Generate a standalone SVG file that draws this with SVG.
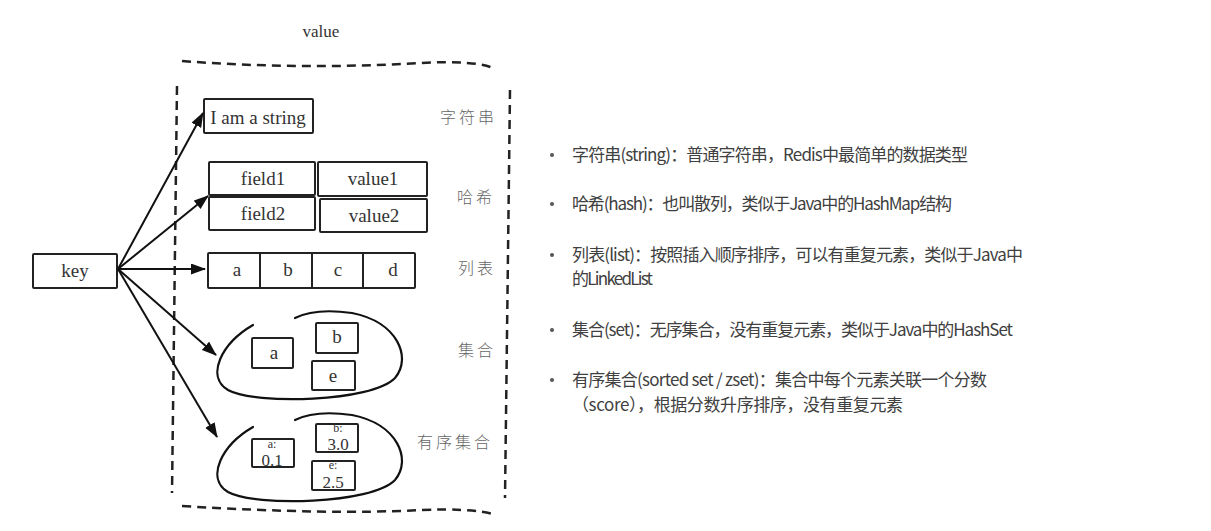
<svg xmlns="http://www.w3.org/2000/svg" width="1211" height="531" viewBox="0 0 1211 531">
<style>
.bx{fill:none;stroke:#222;stroke-width:2;stroke-linejoin:round}
.dash{fill:none;stroke:#222;stroke-width:2.5;stroke-dasharray:9 6}
.ell{fill:none;stroke:#111;stroke-width:2.2;stroke-linecap:round}
.ser{font-family:"Liberation Serif","DejaVu Serif",serif;fill:#333;font-size:19px;text-anchor:middle}
.sm{font-size:12px}
.num{font-size:17px}
.lbl{font-family:"Noto Sans CJK SC","Noto Sans CJK JP",sans-serif;font-weight:300;fill:#666;font-size:16px;letter-spacing:3px}
.txt{font-family:"Noto Sans CJK SC","Noto Sans CJK JP",sans-serif;fill:#404040;font-size:17px}
.arr{fill:none;stroke:#111;stroke-width:2;marker-end:url(#ah)}
.dot{fill:#555}
</style>
<defs>
<marker id="ah" markerUnits="userSpaceOnUse" markerWidth="16" markerHeight="12" refX="14" refY="5.5" orient="auto">
<path d="M0,0 L15,5.5 L0,11 Z" fill="#111"/>
</marker>
</defs>
<rect width="1211" height="531" fill="#fff"/>

<text class="ser" x="321" y="37" style="font-size:17px">value</text>

<g id="value-border">
<path class="dash" d="M182,61 Q300,70 420,63 Q478,60 495,69"/>
<path class="dash" d="M177,86 L172,493"/>
<path class="dash" d="M510,90 L505,498"/>
<path class="dash" d="M182,506 Q330,515 420,510 Q470,508 493,514"/>
</g>

<g id="key">
<rect class="bx" x="33" y="254" width="84" height="34" rx="1"/>
<text class="ser" x="75" y="277">key</text>
</g>

<g id="string">
<rect class="bx" x="204" y="99" width="109" height="34" rx="1"/>
<text class="ser" x="258" y="124">I am a string</text>
<text class="lbl" x="440" y="123">字符串</text>
</g>

<g id="hash">
<rect class="bx" x="209" y="162" width="106" height="33" rx="1"/>
<rect class="bx" x="318" y="162" width="109" height="34" rx="1"/>
<rect class="bx" x="209" y="197" width="106" height="33" rx="1"/>
<rect class="bx" x="320" y="199" width="107" height="33" rx="1"/>
<text class="ser" x="263" y="185">field1</text>
<text class="ser" x="373" y="185">value1</text>
<text class="ser" x="263" y="220">field2</text>
<text class="ser" x="374" y="222">value2</text>
<text class="lbl" x="457" y="203">哈希</text>
</g>

<g id="list">
<rect class="bx" x="208" y="253" width="207" height="35" rx="1"/>
<path class="bx" d="M260,253 L260,288 M312,253 L312,288 M363,253 L363,288"/>
<text class="ser" x="237" y="276">a</text>
<text class="ser" x="288" y="276">b</text>
<text class="ser" x="338" y="276">c</text>
<text class="ser" x="393" y="276">d</text>
<text class="lbl" x="458" y="274">列表</text>
</g>

<g id="set">
<path class="ell" d="M253,325 C222,343 205,376 228,390 C255,405 372,402 395,378 C412,358 398,322 352,313 C324,309 305,313 295,318"/>
<rect class="bx" x="252" y="338" width="41" height="30" rx="1"/>
<rect class="bx" x="316" y="323" width="42" height="30" rx="1"/>
<rect class="bx" x="312" y="361" width="43" height="29" rx="1"/>
<text class="ser" x="274" y="359">a</text>
<text class="ser" x="337" y="343">b</text>
<text class="ser" x="333" y="382">e</text>
<text class="lbl" x="458" y="356">集合</text>
</g>

<g id="zset">
<path class="ell" d="M253,427 C222,445 205,478 228,492 C255,507 372,504 395,480 C412,460 398,424 352,415 C324,411 305,415 295,420"/>
<rect class="bx" x="252" y="439" width="42" height="28" rx="1"/>
<rect class="bx" x="316" y="424" width="42" height="28" rx="1"/>
<rect class="bx" x="312" y="461" width="43" height="29" rx="1"/>
<text class="ser sm" x="272" y="448">a:</text>
<text class="ser num" x="272" y="466">0.1</text>
<text class="ser sm" x="338" y="432">b:</text>
<text class="ser num" x="338" y="450">3.0</text>
<text class="ser sm" x="333" y="469">e:</text>
<text class="ser num" x="333" y="488">2.5</text>
<text class="lbl" x="417" y="448">有序集合</text>
</g>

<g id="connectors">
<path class="arr" d="M118,269 L203,113"/>
<path class="arr" d="M118,269 L208,196"/>
<path class="arr" d="M118,269 L205,269"/>
<path class="arr" d="M118,269 L216,355"/>
<path class="arr" d="M118,269 L217,437"/>
</g>

<g id="legend">
<circle class="dot" cx="552" cy="155" r="2"/>
<circle class="dot" cx="552" cy="204" r="2"/>
<circle class="dot" cx="552" cy="255" r="2"/>
<circle class="dot" cx="552" cy="330" r="2"/>
<circle class="dot" cx="552" cy="380" r="2"/>
<text class="txt" x="572" y="161" textLength="396" lengthAdjust="spacing">字符串(string)：普通字符串，Redis中最简单的数据类型</text>
<text class="txt" x="572" y="210" textLength="380" lengthAdjust="spacing">哈希(hash)：也叫散列，类似于Java中的HashMap结构</text>
<text class="txt" x="572" y="261" textLength="451" lengthAdjust="spacing">列表(list)：按照插入顺序排序，可以有重复元素，类似于Java中</text>
<text class="txt" x="572" y="285" textLength="81" lengthAdjust="spacing">的LinkedList</text>
<text class="txt" x="572" y="336" textLength="441" lengthAdjust="spacing">集合(set)：无序集合，没有重复元素，类似于Java中的HashSet</text>
<text class="txt" x="572" y="386" textLength="415" lengthAdjust="spacing">有序集合(sorted set / zset)：集合中每个元素关联一个分数</text>
<text class="txt" x="572" y="411" textLength="331" lengthAdjust="spacing">（score），根据分数升序排序，没有重复元素</text>
</g>
</svg>
